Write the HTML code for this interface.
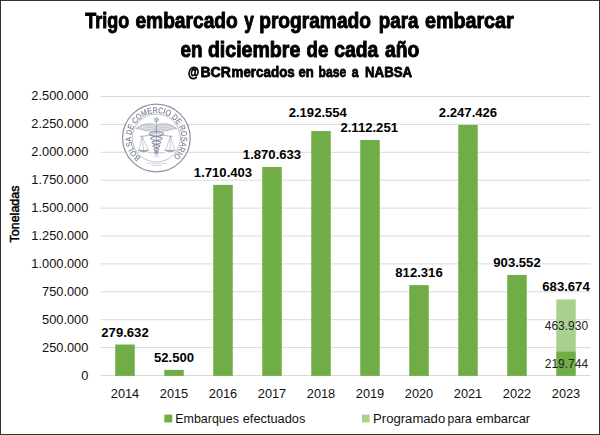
<!DOCTYPE html>
<html><head><meta charset="utf-8"><title>Trigo embarcado</title>
<style>
html,body{margin:0;padding:0;background:#fff;}
body{width:600px;height:435px;overflow:hidden;font-family:"Liberation Sans",sans-serif;}
svg{display:block;font-family:"Liberation Sans",sans-serif;}
.t{font-weight:bold;fill:#000;stroke:#000;stroke-width:1px;stroke-linejoin:round;}
.yt{font-weight:normal;fill:#000;stroke:#000;stroke-width:0.45px;}
.lg{fill:#111;}
.ax{fill:#111;font-size:12.8px;}
.dl{fill:#000;font-size:13.1px;font-weight:bold;}
</style></head><body>
<svg width="600" height="435" viewBox="0 0 600 435">
<rect x="0" y="0" width="600" height="435" fill="#fff"/>

<line x1="100.5" x2="590.5" y1="375.50" y2="375.50" stroke="#d9d9d9" stroke-width="1"/>
<line x1="100.5" x2="590.5" y1="347.60" y2="347.60" stroke="#d9d9d9" stroke-width="1"/>
<line x1="100.5" x2="590.5" y1="319.70" y2="319.70" stroke="#d9d9d9" stroke-width="1"/>
<line x1="100.5" x2="590.5" y1="291.80" y2="291.80" stroke="#d9d9d9" stroke-width="1"/>
<line x1="100.5" x2="590.5" y1="263.90" y2="263.90" stroke="#d9d9d9" stroke-width="1"/>
<line x1="100.5" x2="590.5" y1="236.00" y2="236.00" stroke="#d9d9d9" stroke-width="1"/>
<line x1="100.5" x2="590.5" y1="208.10" y2="208.10" stroke="#d9d9d9" stroke-width="1"/>
<line x1="100.5" x2="590.5" y1="180.20" y2="180.20" stroke="#d9d9d9" stroke-width="1"/>
<line x1="100.5" x2="590.5" y1="152.30" y2="152.30" stroke="#d9d9d9" stroke-width="1"/>
<line x1="100.5" x2="590.5" y1="124.40" y2="124.40" stroke="#d9d9d9" stroke-width="1"/>
<line x1="100.5" x2="590.5" y1="96.50" y2="96.50" stroke="#d9d9d9" stroke-width="1"/>
<text class="ax" x="88.3" y="380.10" text-anchor="end">0</text>
<text class="ax" x="88.3" y="351.50" text-anchor="end">250.000</text>
<text class="ax" x="88.3" y="323.60" text-anchor="end">500.000</text>
<text class="ax" x="88.3" y="295.70" text-anchor="end">750.000</text>
<text class="ax" x="88.3" y="267.80" text-anchor="end">1.000.000</text>
<text class="ax" x="88.3" y="239.90" text-anchor="end">1.250.000</text>
<text class="ax" x="88.3" y="212.00" text-anchor="end">1.500.000</text>
<text class="ax" x="88.3" y="184.10" text-anchor="end">1.750.000</text>
<text class="ax" x="88.3" y="156.20" text-anchor="end">2.000.000</text>
<text class="ax" x="88.3" y="128.30" text-anchor="end">2.250.000</text>
<text class="ax" x="88.3" y="100.40" text-anchor="end">2.500.000</text>
<rect x="115.25" y="344.54" width="19.5" height="31.36" fill="#70ad47"/>
<rect x="164.25" y="369.89" width="19.5" height="6.01" fill="#70ad47"/>
<rect x="213.25" y="184.87" width="19.5" height="191.03" fill="#70ad47"/>
<rect x="262.25" y="166.99" width="19.5" height="208.91" fill="#70ad47"/>
<rect x="311.25" y="131.06" width="19.5" height="244.84" fill="#70ad47"/>
<rect x="360.25" y="140.02" width="19.5" height="235.88" fill="#70ad47"/>
<rect x="409.25" y="285.10" width="19.5" height="90.80" fill="#70ad47"/>
<rect x="458.25" y="124.94" width="19.5" height="250.96" fill="#70ad47"/>
<rect x="507.25" y="274.91" width="19.5" height="100.99" fill="#70ad47"/>
<rect x="556.25" y="351.23" width="19.5" height="24.67" fill="#70ad47"/>
<rect x="556.25" y="299.45" width="19.5" height="51.77" fill="#a9d18e"/>
<text class="ax" x="125.00" y="398.4" text-anchor="middle">2014</text>
<text class="ax" x="174.00" y="398.4" text-anchor="middle">2015</text>
<text class="ax" x="223.00" y="398.4" text-anchor="middle">2016</text>
<text class="ax" x="272.00" y="398.4" text-anchor="middle">2017</text>
<text class="ax" x="321.00" y="398.4" text-anchor="middle">2018</text>
<text class="ax" x="370.00" y="398.4" text-anchor="middle">2019</text>
<text class="ax" x="419.00" y="398.4" text-anchor="middle">2020</text>
<text class="ax" x="468.00" y="398.4" text-anchor="middle">2021</text>
<text class="ax" x="517.00" y="398.4" text-anchor="middle">2022</text>
<text class="ax" x="566.00" y="398.4" text-anchor="middle">2023</text>
<text class="dl" x="125.00" y="336.59" text-anchor="middle">279.632</text>
<text class="dl" x="174.00" y="361.94" text-anchor="middle">52.500</text>
<text class="dl" x="223.00" y="176.92" text-anchor="middle">1.710.403</text>
<text class="dl" x="272.00" y="159.04" text-anchor="middle">1.870.633</text>
<text class="dl" x="317.80" y="116.90" text-anchor="middle">2.192.554</text>
<text class="dl" x="369.20" y="132.07" text-anchor="middle">2.112.251</text>
<text class="dl" x="419.00" y="277.15" text-anchor="middle">812.316</text>
<text class="dl" x="468.00" y="116.99" text-anchor="middle">2.247.426</text>
<text class="dl" x="517.00" y="266.96" text-anchor="middle">903.552</text>
<text class="dl" x="566.00" y="291.2" text-anchor="middle">683.674</text>
<text class="ax" x="566.40" y="330.2" text-anchor="middle" style="font-size:12px;fill:#222">463.930</text>
<text class="ax" x="566.40" y="368.2" text-anchor="middle" style="font-size:12px;fill:#222">219.744</text>
<g opacity="0.999">
<text class="t" transform="translate(85.30,28.4) scale(0.8022,1)" font-size="22.4">Trigo</text>
<text class="t" transform="translate(135.43,28.4) scale(0.8561,1)" font-size="22.4">embarcado</text>
<text class="t" transform="translate(244.35,28.4) scale(0.7654,1)" font-size="22.4">y</text>
<text class="t" transform="translate(259.22,28.4) scale(0.8558,1)" font-size="22.4">programado</text>
<text class="t" transform="translate(378.74,28.4) scale(0.8379,1)" font-size="22.4">para</text>
<text class="t" transform="translate(425.01,28.4) scale(0.8801,1)" font-size="22.4">embarcar</text>
<text class="t" transform="translate(180.44,56.9) scale(0.8428,1)" font-size="22.4">en</text>
<text class="t" transform="translate(207.91,56.9) scale(0.8737,1)" font-size="22.4">diciembre</text>
<text class="t" transform="translate(306.55,56.9) scale(0.8327,1)" font-size="22.4">de</text>
<text class="t" transform="translate(334.22,56.9) scale(0.8648,1)" font-size="22.4">cada</text>
<text class="t" transform="translate(384.94,56.9) scale(0.8616,1)" font-size="22.4">año</text>
<text class="t" transform="translate(188.06,77.3) scale(0.7557,1)" font-size="15.2" style="stroke-width:0.8px">@</text>
<text class="t" transform="translate(200.48,77.3) scale(0.9241,1)" font-size="15.2" style="stroke-width:0.8px">BCR</text>
<text class="t" transform="translate(231.52,77.3) scale(0.8818,1)" font-size="15.2" style="stroke-width:0.8px">mercados</text>
<text class="t" transform="translate(298.48,77.3) scale(0.8642,1)" font-size="15.2" style="stroke-width:0.8px">en</text>
<text class="t" transform="translate(318.60,77.3) scale(0.7994,1)" font-size="15.2" style="stroke-width:0.8px">base</text>
<text class="t" transform="translate(351.63,77.3) scale(0.8148,1)" font-size="15.2" style="stroke-width:0.8px">a</text>
<text class="t" transform="translate(365.03,77.3) scale(0.8726,1)" font-size="15.2" style="stroke-width:0.8px">NABSA</text>
</g>
<text class="yt" transform="translate(19.4,242.4) rotate(-90)" font-size="12.3" textLength="56.8" lengthAdjust="spacingAndGlyphs">Toneladas</text>
<rect x="164.3" y="414.6" width="8" height="7.8" fill="#70ad47"/>
<text class="lg" transform="translate(175.26,422.6) scale(0.9952,1)" font-size="12.5">Embarques</text>
<text class="lg" transform="translate(242.74,422.6) scale(1.0241,1)" font-size="12.5">efectuados</text>
<rect x="362" y="414.6" width="7.6" height="7.8" fill="#a9d18e"/>
<text class="lg" transform="translate(373.10,422.6) scale(1.0483,1)" font-size="12.5">Programado</text>
<text class="lg" transform="translate(447.53,422.6) scale(0.9669,1)" font-size="12.5">para</text>
<text class="lg" transform="translate(475.73,422.6) scale(1.0317,1)" font-size="12.5">embarcar</text>
<g style="filter:opacity(0.9)" fill="none" stroke="#7f869b" stroke-width="0.6" stroke-linecap="round" stroke-linejoin="round">
<circle cx="156.4" cy="138.0" r="33.8" fill="#fff" fill-opacity="0.55" stroke-width="1.25"/>
<circle cx="156.4" cy="138.0" r="24.0" stroke-width="0.55"/>
<path id="sealp" d="M140.67 157.43 A25.0 25.0 0 1 1 173.77 155.98" stroke="none"/>
<text font-size="8.3" fill="#6f768c" stroke="#6f768c" stroke-width="0.2" font-family="Liberation Sans, sans-serif"><textPath href="#sealp" textLength="120.9" lengthAdjust="spacingAndGlyphs">BOLSA DE COMERCIO DE ROSARIO</textPath></text>
<path d="M156.4 121.5V153.5" stroke-width="0.9" stroke-opacity="0.85"/>
<circle cx="156.4" cy="119.8" r="2.1" fill="#7f869b" fill-opacity="0.55" stroke-width="0.4"/>
<path d="M155.40 125 C151.40 122.4 142.40 123.2 136.00 128.6 C140.90 128.8 144.40 130.8 148.40 131 C151.40 131.8 153.40 131.6 155.40 130.8Z" fill="#7f869b" fill-opacity="0.24" stroke-width="0.5"/>
<path d="M154.40 126.6 C148.40 124.4 142.40 125.4 137.20 128.4 M154.40 128.2 C149.40 126.6 144.40 127.4 140.40 129.4 M154.40 129.6 C150.40 128.6 147.40 129.2 144.40 130.4" stroke="#7f869b" stroke-opacity="0.85" stroke-width="0.4"/>
<path d="M157.40 125 C161.40 122.4 170.40 123.2 176.80 128.6 C171.90 128.8 168.40 130.8 164.40 131 C161.40 131.8 159.40 131.6 157.40 130.8Z" fill="#7f869b" fill-opacity="0.24" stroke-width="0.5"/>
<path d="M158.40 126.6 C164.40 124.4 170.40 125.4 175.60 128.4 M158.40 128.2 C163.40 126.6 168.40 127.4 172.40 129.4 M158.40 129.6 C162.40 128.6 165.40 129.2 168.40 130.4" stroke="#7f869b" stroke-opacity="0.85" stroke-width="0.4"/>
<path d="M156.40 131.40 Q141.96 133.90 156.40 136.40 Q167.80 138.50 156.40 140.60 Q147.66 142.50 156.40 144.40 Q163.05 146.10 156.40 147.80 Q151.46 149.30 156.40 150.80 Q159.82 152.00 156.40 153.20" stroke-width="1.15"/>
<path d="M156.40 131.40 Q170.84 133.90 156.40 136.40 Q145.00 138.50 156.40 140.60 Q165.14 142.50 156.40 144.40 Q149.75 146.10 156.40 147.80 Q161.34 149.30 156.40 150.80 Q152.98 152.00 156.40 153.20" stroke-width="1.15"/>
<path d="M140.2 136.3 C146 136.2 151 135.2 156.4 132.6 C161.8 135.2 166.8 136.2 172.2 136.3" stroke-width="0.7"/>
<path d="M142.2 136.4 L138.79999999999998 150.4 M142.2 136.4 L148.4 150.4 M142.2 136.4 L143.6 150.4" stroke-width="0.45"/>
<path d="M138.4 150.3H148.79999999999998 Q143.6 153.6 138.4 150.3Z" fill="#7f869b" fill-opacity="0.8" stroke-width="0.5"/>
<path d="M170.3 136.4 L165.39999999999998 150.4 M170.3 136.4 L175.0 150.4 M170.3 136.4 L170.2 150.4" stroke-width="0.45"/>
<path d="M165.0 150.3H175.39999999999998 Q170.2 153.6 165.0 150.3Z" fill="#7f869b" fill-opacity="0.8" stroke-width="0.5"/>
<path d="M148.5 152.8H164.5" stroke-width="0.4"/>
<path d="M153.8 156.6 L155.8 153.6 M159.0 156.6 L157.0 153.6 M156.4 157.4V153.6" stroke-width="0.45"/>
<path d="M146.2 163 Q156.4 164.6 166.8 163" stroke-width="0.45" stroke-dasharray="1.4 0.5" opacity="0.75"/>
<path d="M151.6 165.3 Q156.4 166 161.6 165.3" stroke-width="0.45" stroke-dasharray="1.2 0.5" opacity="0.75"/>
</g>
<path d="M0 0H600V435H0Z M1 1V434H599V1Z" fill="#333" fill-rule="evenodd" shape-rendering="crispEdges"/>
</svg></body></html>
